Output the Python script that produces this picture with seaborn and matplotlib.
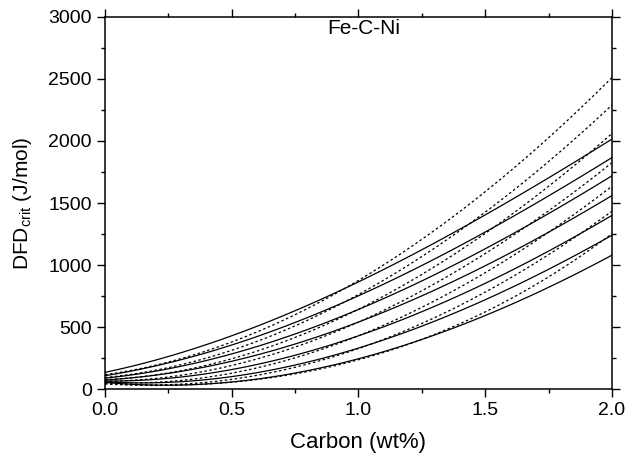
import numpy as np
import pandas as pd
import matplotlib
matplotlib.use("Agg")
import matplotlib.pyplot as plt
import seaborn as sns
from matplotlib.ticker import MultipleLocator, FormatStrFormatter

carbon = [0.0, 0.25, 0.5, 0.75, 1.0, 1.25, 1.5, 1.75, 2.0]

# solid curves (top to bottom)
solid_1 = [130, 272, 440, 632, 848, 1120, 1415, 1710, 2008]
solid_2 = [105, 218, 362, 540, 742, 990, 1275, 1565, 1860]
solid_3 = [85, 170, 292, 448, 630, 865, 1140, 1425, 1712]
solid_4 = [72, 132, 230, 366, 532, 750, 1000, 1270, 1556]
solid_5 = [62, 93, 164, 276, 420, 620, 860, 1120, 1395]
solid_6 = [55, 63, 108, 196, 320, 502, 730, 975, 1234]
solid_7 = [50, 41, 65, 132, 233, 393, 605, 830, 1073]

# dashed curves (top to bottom)
dashed_1 = [115, 222, 385, 603, 870, 1200, 1600, 2030, 2506]
dashed_2 = [92, 178, 317, 512, 758, 1065, 1430, 1840, 2285]
dashed_3 = [75, 135, 249, 418, 640, 920, 1260, 1640, 2056]
dashed_4 = [62, 103, 195, 340, 536, 790, 1095, 1445, 1820]
dashed_5 = [52, 66, 133, 253, 425, 660, 940, 1270, 1632]
dashed_6 = [45, 45, 82, 175, 322, 530, 785, 1090, 1430]
dashed_7 = [40, 36, 60, 122, 235, 400, 625, 910, 1250]

solids = [solid_1, solid_2, solid_3, solid_4, solid_5, solid_6, solid_7]
dasheds = [dashed_1, dashed_2, dashed_3, dashed_4, dashed_5, dashed_6, dashed_7]

sns.set_style("ticks")
plt.rcParams["font.family"] = ["Liberation Sans", "DejaVu Sans"]
plt.rcParams["mathtext.fontset"] = "custom"
plt.rcParams["mathtext.rm"] = "Liberation Sans"
plt.rcParams["text.color"] = "black"
plt.rcParams["axes.labelcolor"] = "black"

fig = plt.figure(figsize=(6.27, 4.58), dpi=100)
ax = fig.add_axes([0.1675, 0.15, 0.8085, 0.8135])

for s in solids:
    d = pd.DataFrame({"x": carbon, "y": s})
    sns.regplot(data=d, x="x", y="y", order=3, ci=None, scatter=False, truncate=True,
                line_kws={"color": "black", "linewidth": 0.9, "linestyle": "-"}, ax=ax)
for s in dasheds:
    d = pd.DataFrame({"x": carbon, "y": s})
    sns.regplot(data=d, x="x", y="y", order=3, ci=None, scatter=False, truncate=True,
                line_kws={"color": "black", "linewidth": 0.9, "linestyle": (0, (2, 2))}, ax=ax)

ax.set_xlim(0, 2.0)
ax.set_ylim(0, 3000)
ax.xaxis.set_major_locator(MultipleLocator(0.5))
ax.xaxis.set_minor_locator(MultipleLocator(0.25))
ax.yaxis.set_major_locator(MultipleLocator(500))
ax.yaxis.set_minor_locator(MultipleLocator(250))
ax.xaxis.set_major_formatter(FormatStrFormatter("%.1f"))

ax.tick_params(which="both", direction="out", top=True, right=True,
               labeltop=False, labelright=False, width=1.0, labelsize=14, colors="black")
ax.tick_params(which="major", length=5.5, pad=4)
ax.tick_params(which="minor", length=3)
for sp in ax.spines.values():
    sp.set_linewidth(1.1)
    sp.set_color("black")
    sp.set_visible(True)

ax.set_xlabel("Carbon (wt%)", fontsize=16, labelpad=9, color="black")
ax.set_ylabel(r"DFD$_{\rm crit}$ (J/mol)", fontsize=15, labelpad=10, color="black")
ax.text(1.02, 2905, "Fe-C-Ni", fontsize=15, ha="center", va="center", color="black")

fig.savefig("out.png", dpi=100)
